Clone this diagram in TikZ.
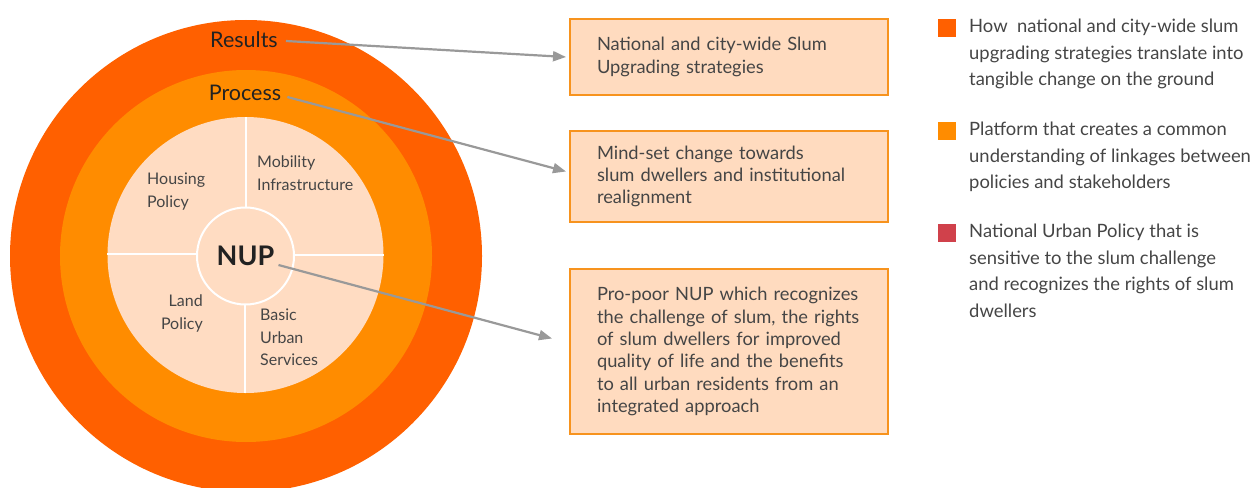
\documentclass[tikz,border=0pt]{standalone}
\usepackage{fontspec}
\setmainfont{Lato}
\usetikzlibrary{calc,arrows.meta}
\definecolor{ringA}{HTML}{FF6000}
\definecolor{ringB}{HTML}{FF8C00}
\definecolor{coreC}{HTML}{FFDCC2}
\definecolor{boxfill}{HTML}{FFDBBF}
\definecolor{boxline}{HTML}{F7931E}
\definecolor{txt}{HTML}{454545}
\definecolor{dark}{HTML}{222222}
\definecolor{arr}{HTML}{999999}
\definecolor{legC}{HTML}{D0414B}
\tikzset{
  conn/.style={draw=arr, line width=2.2pt, -{Triangle[length=13pt,width=10pt]}},
  infobox/.style={draw=boxline, fill=boxfill, line width=2pt, text width=264pt,
    inner xsep=27pt, inner ysep=0pt, align=left, anchor=north west,
    font=\fontsize{18.3}{22.3}\selectfont, text=txt},
  ringlabel/.style={font=\fontsize{21.5}{24}\selectfont, text=dark, inner sep=0pt},
  sector/.style={font=\fontsize{16}{22.5}\selectfont, text=txt, inner sep=0pt},
  legsq/.style={minimum size=18pt, inner sep=0pt, draw=none},
  legtext/.style={font=\fontsize{18.4}{26.5}\selectfont, text=txt, inner sep=0pt,
    anchor=north west, align=left},
  divider/.style={draw=white, line width=2pt}
}
\begin{document}
\begin{tikzpicture}[x=1pt,y=-1pt]
\useasboundingbox (0,0) rectangle (1257,487);
\begin{scope}
  \clip (0,0) rectangle (1257,487);
  \fill[ringA] (246,256) circle[radius=236pt];
\end{scope}
\fill[ringB] (246,256) circle[radius=186pt];
\fill[coreC] (245.5,255) circle[radius=138pt];
% dividers
\draw[divider] (246,117) -- (246,207);
\draw[divider] (244.5,304) -- (244.5,393);
\draw[divider] (107,254) -- (197,254);
\draw[divider] (294,255) -- (384,255);
\node[circle, draw=white, line width=2pt, fill=coreC, minimum size=97pt, inner sep=0pt,
  font=\bfseries\fontsize{27}{30}\selectfont, text=dark] (nup) at (245.5,256) {NUP};
% ring labels
\node[ringlabel] (results) at (244,40) {Results};
\node[ringlabel] (process) at (245,93) {Process};
% sector labels
\node[sector, anchor=north west, align=left] (housing) at (147,173) {Housing\\Policy};
\node[sector, anchor=north west, align=left] (mobility) at (257,156) {Mobility\\Infrastructure};
\node[sector, anchor=north east, align=right] (land) at (203,295) {Land\\Policy};
\node[sector, anchor=north west, align=left] (basic) at (260,309) {Basic\\Urban\\Services};
% boxes
\node[infobox, minimum height=76pt] (box1) at (569,18)
  {National and city-wide Slum\\Upgrading strategies};
\node[infobox, minimum height=91pt] (box2) at (569,130)
  {Mind-set change towards\\slum dwellers and institutional\\realignment};
\node[infobox, minimum height=165pt] (box3) at (569,268)
  {Pro-poor NUP which recognizes\\the challenge of slum, the rights\\of slum dwellers for improved\\quality of life and the benefits\\to all urban residents from an\\integrated approach};
% connectors
\draw[conn] ($(results.east)+(8,1)$) -- ($(box1.west)+(-3,0)$);
\draw[conn] ($(process.east)+(6,4)$) -- ($(box2.west)+(-3,-5)$);
\draw[conn] ($(nup.center)+(33,9)$) -- ($(box3.west)+(-17,-13)$);
% legend
\node[legsq, fill=ringA] (sq1) at (947,28) {};
\node[legsq, fill=ringB] (sq2) at (947,130.5) {};
\node[legsq, fill=legC] (sq3) at (947,233) {};
\node[legtext] (leg1) at (969,19) {How\ \ national and city-wide slum\\upgrading strategies translate into\\tangible change on the ground};
\node[legtext] (leg2) at (969,122) {Platform that creates a common\\understanding of linkages between\\policies and stakeholders};
\node[legtext] (leg3) at (969,224) {National Urban Policy that is\\sensitive to the slum challenge\\and recognizes the rights of slum\\dwellers};
\end{tikzpicture}
\end{document}
